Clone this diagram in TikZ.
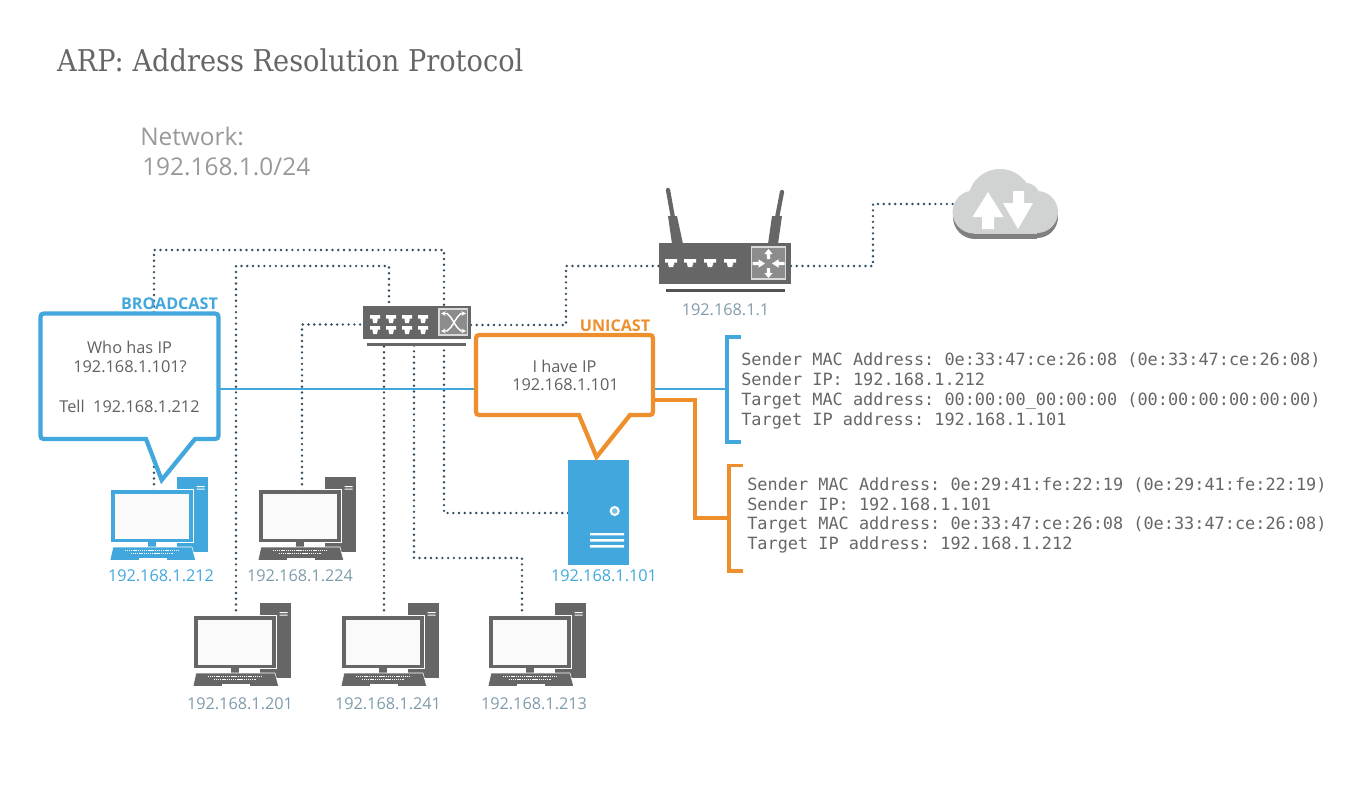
\documentclass[tikz,border=0pt]{standalone}
\usepackage{fontspec}
\setmainfont{Open Sans}
\newfontfamily\titlefont{DejaVu Serif}
\newfontfamily\monofont{DejaVu Sans Mono}
\usetikzlibrary{arrows.meta}
\definecolor{cblue}{HTML}{41A7DC}
\definecolor{corange}{HTML}{EE8F2D}
\definecolor{cgray}{HTML}{666666}
\definecolor{cdot}{HTML}{2F4C60}
\definecolor{clabel}{HTML}{7F9BAB}
\definecolor{ccloud}{HTML}{D1D3D3}
\definecolor{cshadow}{HTML}{808080}
\tikzset{
  net/.style={draw=cdot,line width=2pt,line cap=round,dash pattern=on 0pt off 4.3pt},
  iplabel/.style={text=clabel,font=\fontsize{12.2}{14}\selectfont,inner sep=0pt},
  bubbletext/.style={text=black!62,font=\fontsize{12.25}{14}\selectfont,inner sep=0pt,align=center},
  monotext/.style={text=cgray,font=\monofont\frenchspacing\fontsize{12.66}{15}\selectfont,inner sep=0pt,anchor=west,text height=9.5pt,text depth=2.5pt},
  tag/.style={font=\bfseries\fontsize{12.1}{13}\selectfont,inner sep=0pt},
  devbody/.style={fill=cgray,inner sep=0pt,minimum width=#1},
  bubble/.style={fill=white,line width=3.2pt,line join=miter},
  bracket/.style={line width=2.7pt,line join=miter},
  wire/.style={line width=2pt},
  wireO/.style={line width=2.6pt,line join=miter},
}
\newcommand{\pcshape}[3]{%
  \begin{scope}[shift={(#1,#2)}]
    \fill[#3] (66.3,0) rectangle (97.3,75);
    \fill[white] (86,9) rectangle (94,10) (86,11.5) rectangle (94,12.5);
    \fill[white] (-.9,12.1) rectangle (82.9,65.9);
    \fill[#3] (0,13) rectangle (82,65);
    \fill[white!98!black] (4,16.5) rectangle (78.3,62);
    \fill[#3] (37.3,64) rectangle (45.3,70);
    \fill[#3,draw=white,line width=.4pt] (2.3,70) -- (81.3,70) -- (85,83.5) -- (-.7,83.5) -- cycle;
    \fill[white] (28.3,80.5) rectangle (56,83.5);
    \draw[white,line width=.9pt,dash pattern=on 1pt off .6pt] (14,73.8) -- (68,73.8);
    \draw[white,line width=.9pt,dash pattern=on 1pt off .6pt] (20,76.5) -- (62,76.5);
  \end{scope}}
\newcommand{\portshape}[3]{%
  \fill[white] (#1-#3/2,#2) -- (#1+#3/2,#2) -- (#1+#3/2,#2+3.6) -- (#1+#3/4,#2+3.6)
    -- (#1+#3/4,#2+6.2) -- (#1+#3/5,#2+6.2) -- (#1+#3/5,#2+8) -- (#1-#3/5,#2+8)
    -- (#1-#3/5,#2+6.2) -- (#1-#3/4,#2+6.2) -- (#1-#3/4,#2+3.6) -- (#1-#3/2,#2+3.6) -- cycle;}
\begin{document}
\begin{tikzpicture}[x=.75pt,y=-.75pt]
\useasboundingbox (0,0) rectangle (1372,790);
% port coordinates
\coordinate (swT1) at (444,306);
\coordinate (swT2) at (389,306);
\coordinate (swL) at (362,324.5);
\coordinate (swR) at (471,325);
\coordinate (swB1) at (384,345);
\coordinate (swB2) at (414,345);
\coordinate (swB3) at (444,345);
\coordinate (rtL) at (659,266);
\coordinate (rtR) at (791,266);
\coordinate (clL) at (957,204);
\coordinate (p212) at (154,490);
\coordinate (p224) at (302,490);
\coordinate (p201) at (236,616);
\coordinate (p241) at (384,616);
\coordinate (p213) at (522,616);
\coordinate (srv) at (568,513);
% network wiring
\draw[net] (p212) -- (p212 |- 0,250) -- (swT1 |- 0,250) -- (swT1);
\draw[net] (p201) -- (p201 |- 0,266) -- (swT2 |- 0,266) -- (swT2);
\draw[net] (p224) -- (p224 |- 0,324.5) -- (swL);
\draw[net] (p241) -- (swB1);
\draw[net] (p213) -- (p213 |- 0,558) -- (swB2 |- 0,558) -- (swB2);
\draw[net] (srv) -- (swB3 |- srv) -- (swB3);
\draw[net] (swR) -- (566,325) -- (566,266) -- (rtL);
\draw[net] (rtR) -- (873,266) -- (873,204) -- (clL);
% blue / orange link lines
\coordinate (bkB) at (727,389);
\coordinate (bkO) at (729,518);
\draw[cblue,wire] (218,389) -- (bkB);
\draw[corange,wireO] (654,400) -- (695,400) -- (695,518) -- (bkO);
% brackets
\draw[cblue,bracket] (741,337) -- (727,337) -- (727,442) -- (741,442);
\draw[corange,bracket] (743,465.5) -- (729,465.5) -- (729,571) -- (743,571);
% computers
\pcshape{110.7}{477}{cblue}
\pcshape{258.7}{477}{cgray}
\pcshape{193.7}{603}{cgray}
\pcshape{341.7}{603}{cgray}
\pcshape{488.7}{603}{cgray}
% server
\fill[cblue] (568,460) rectangle (629,565);
\draw[white,line width=1.5pt,fill=cblue!70] (614.7,511) circle (4);
\fill[white] (590,533) rectangle (624,535.4) (590,539) rectangle (624,541.6) (590,545) rectangle (624,547.6);
% switch
\node[devbody=81pt,minimum height=24.75pt] (switch) at (416.5,322.5) {};
\fill[cgray] (367,343) rectangle (466,345.5);
\draw[white!85!black,line width=.8pt,fill=white!55!black] (439,309) rectangle (467.5,335);
\foreach \x in {375,391,407,423} {\portshape{\x}{315}{10}\portshape{\x}{326}{10}}
\draw[white,line width=1.1pt,{Stealth[length=3.5pt,width=3.5pt]}-{Stealth[length=3.5pt,width=3.5pt]}] (441,313.5) -- (447,313.5) .. controls (453,318) and (455,327) .. (461,331) -- (466,331);
\draw[white,line width=1.1pt,{Stealth[length=3.5pt,width=3.5pt]}-{Stealth[length=3.5pt,width=3.5pt]}] (441,331) -- (447,331) .. controls (453,327) and (455,318) .. (461,313.5) -- (466,313.5);
% router
\draw[cgray,line width=3.2pt,line cap=round] (668,190) -- (673,218);
\fill[cgray] (668,216) -- (677,216) -- (683,244) -- (672,244) -- cycle;
\draw[cgray,line width=3.2pt,line cap=round] (782,192) -- (777,218);
\fill[cgray] (772,216) -- (782,216) -- (778,244) -- (768,244) -- cycle;
\node[devbody=99pt,minimum height=30.75pt] (router) at (725,263.5) {};
\fill[cgray!80!black] (666,289) rectangle (785,292);
\draw[white!85!black,line width=.8pt,fill=white!55!black] (751.5,247) rectangle (785.5,279);
\foreach \x in {671,690,710,730} {\portshape{\x}{259}{12}}
\foreach \a in {0,180} {
  \begin{scope}[shift={(768.5,263.5)},rotate=\a]
    \fill[white] (-1.7,-4.5) -- (1.7,-4.5) -- (1.7,-9.5) -- (4.2,-9.5) -- (0,-14.5) -- (-4.2,-9.5) -- (-1.7,-9.5) -- cycle;
  \end{scope}}
\foreach \a in {90,270} {
  \begin{scope}[shift={(768.5,263.5)},rotate=\a]
    \fill[white] (-1.7,-16) -- (1.7,-16) -- (1.7,-10) -- (4.2,-10) -- (0,-3.5) -- (-4.2,-10) -- (-1.7,-10) -- cycle;
  \end{scope}}
% cloud
\fill[cshadow] (975,217) circle (22);
\fill[cshadow] (1037,217) circle (21);
\fill[cshadow] (975,217) rectangle (1037,238.5);
\fill[ccloud] (974,212) circle (21.5);
\fill[ccloud] (1000,201) circle (32);
\fill[ccloud] (1026,197) circle (14);
\fill[ccloud] (1037,212) circle (21);
\fill[ccloud] (974,195) rectangle (1037,233.5);
\fill[white] (1013,191) -- (1024,191) -- (1024,203) -- (1033,203) -- (1018,229) -- (1003,203) -- (1013,203) -- cycle;
\fill[white] (988,192) -- (1003.5,217) -- (994,217) -- (994,229) -- (982,229) -- (982,217) -- (972.5,217) -- cycle;
% bubbles
\draw[cblue,bubble] (47.5,313.5) -- (211,313.5) .. controls (218.5,313.5) .. (218.5,321) -- (218.5,432) .. controls (218.5,439) .. (211,439) -- (195,439) -- (161.7,480) -- (146,439) -- (47.5,439) .. controls (40.5,439) .. (40.5,432) -- (40.5,321) .. controls (40.5,313.5) .. (47.5,313.5) -- cycle;
\draw[corange,bubble] (483,335) -- (646,335) .. controls (653,335) .. (653,342) -- (653,408) .. controls (653,415) .. (646,415) -- (630,415) -- (596.5,457) -- (579,415) -- (483,415) .. controls (476,415) .. (476,408) -- (476,342) .. controls (476,335) .. (483,335) -- cycle;
% texts
\node[inner sep=0pt,anchor=west,text=cgray,font=\titlefont\fontsize{22.5}{26}\selectfont,xscale=.907] (title) at (57,60) {ARP: Address Resolution Protocol};
\node[inner sep=0pt,anchor=west,text=black!40,font=\fontsize{18.3}{22}\selectfont] (netA) at (140,136) {Network:};
\node[inner sep=0pt,anchor=west,text=black!40,font=\fontsize{18.3}{22}\selectfont] (netB) at (142,167) {192.168.1.0/24};
\node[tag,text=cblue] (tagB) at (169.5,304) {BROADCAST};
\node[tag,text=corange] (tagU) at (615,326) {UNICAST};
\node[bubbletext] (b1) at (129.5,347) {Who has IP};
\node[bubbletext] (b2) at (130,367) {192.168.1.101?};
\node[bubbletext] (b3) at (129.5,406) {Tell\ \ 192.168.1.212};
\node[bubbletext] (o1) at (564.5,366) {I have IP};
\node[bubbletext] (o2) at (565.5,385) {192.168.1.101};
\node[monotext] (m1) at (741,361) {Sender MAC Address: 0e:33:47:ce:26:08 (0e:33:47:ce:26:08)};
\node[monotext] (m2) at (741,381) {Sender IP: 192.168.1.212};
\node[monotext] (m3) at (741,400.5) {Target MAC address: 00:00:00\_00:00:00 (00:00:00:00:00:00)};
\node[monotext] (m4) at (741,420.5) {Target IP address: 192.168.1.101};
\node[monotext] (n1) at (747,485.5) {Sender MAC Address: 0e:29:41:fe:22:19 (0e:29:41:fe:22:19)};
\node[monotext] (n2) at (747,505.5) {Sender IP: 192.168.1.101};
\node[monotext] (n3) at (747,525) {Target MAC address: 0e:33:47:ce:26:08 (0e:33:47:ce:26:08)};
\node[monotext] (n4) at (747,545) {Target IP address: 192.168.1.212};
\node[iplabel] (lr) at (725.5,310) {192.168.1.1};
\node[iplabel,text=cblue] (l212) at (161,576) {192.168.1.212};
\node[iplabel] (l224) at (300,576) {192.168.1.224};
\node[iplabel,text=cblue] (l101) at (604,576) {192.168.1.101};
\node[iplabel] (l201) at (240,704) {192.168.1.201};
\node[iplabel] (l241) at (388,704) {192.168.1.241};
\node[iplabel] (l213) at (534,704) {192.168.1.213};
\end{tikzpicture}
\end{document}
